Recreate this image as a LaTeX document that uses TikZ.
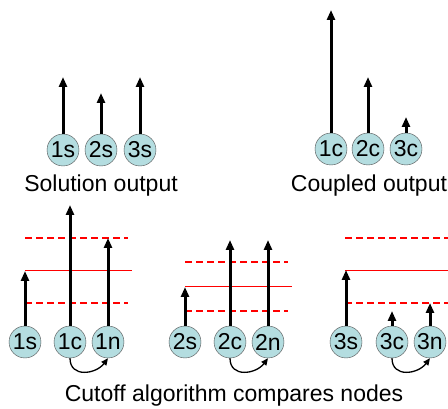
\documentclass[tikz,border=0pt]{standalone}
\usepackage{fontspec}
\setmainfont{Liberation Sans}
\usetikzlibrary{arrows.meta}
\definecolor{ballblue}{RGB}{180,221,224}
\begin{document}
\begin{tikzpicture}[x=1pt, y=-1pt,
    every node/.style={font=\fontsize{23}{26}\selectfont},
    ball/.style={circle, draw=black!70, fill=ballblue, minimum size=32pt, inner sep=0pt},
    vec/.style={-{Triangle[width=8pt,length=10pt]}, line width=3pt},
    cmp/.style={-{Triangle[width=6pt,length=7pt]}, line width=1.3pt},
    cutline/.style={red, line width=1.2pt},
    cutband/.style={red, line width=2pt, dash pattern=on 7pt off 4pt}]
    \useasboundingbox (0,0) rectangle (448,409);
    % Solution output
    \node[ball] (s1) at (63,150) {1s};
    \node[ball] (s2) at (101,150) {2s};
    \node[ball] (s3) at (140,150) {3s};
    \coordinate (ts1) at (63,77);
    \coordinate (ts2) at (101,93);
    \coordinate (ts3) at (140,77);
    \draw[vec] (s1) -- (ts1);
    \draw[vec] (s2) -- (ts2);
    \draw[vec] (s3) -- (ts3);
    \node (sol) at (101,186) {Solution output};
    % Coupled output
    \node[ball] (c1) at (331,149) {1c};
    \node[ball] (c2) at (368,149) {2c};
    \node[ball] (c3) at (406,149) {3c};
    \coordinate (tc1) at (331,10);
    \coordinate (tc2) at (368,77);
    \coordinate (tc3) at (406,117);
    \draw[vec] (c1) -- (tc1);
    \draw[vec] (c2) -- (tc2);
    \draw[vec] (c3) -- (tc3);
    \node (cpl) at (369,186) {Coupled output};
    % Cutoff, node 1
    \draw[cutband] (25,238) -- (128,238);
    \draw[cutband] (25,303) -- (128,303);
    \draw[cutline] (25,270.5) -- (132,270.5);
    \node[ball] (a1) at (25,342) {1s};
    \node[ball] (b1) at (70,342) {1c};
    \node[ball] (n1) at (108,342) {1n};
    \coordinate (ta1) at (25,271);
    \coordinate (tb1) at (70,205);
    \coordinate (tn1) at (108,238);
    \draw[vec] (a1) -- (ta1);
    \draw[vec] (b1) -- (tb1);
    \draw[vec] (n1) -- (tn1);
    \draw[cmp] (b1.south) .. controls +(0,20) and +(-12,16) .. (n1.south);
    % Cutoff, node 2
    \draw[cutband] (185,262) -- (288,262);
    \draw[cutband] (185,311) -- (288,311);
    \draw[cutline] (185,286.5) -- (292,286.5);
    \node[ball] (a2) at (185,342) {2s};
    \node[ball] (b2) at (230,342) {2c};
    \node[ball] (n2) at (268,342) {2n};
    \coordinate (ta2) at (185,287);
    \coordinate (tb2) at (230,240);
    \coordinate (tn2) at (268,240);
    \draw[vec] (a2) -- (ta2);
    \draw[vec] (b2) -- (tb2);
    \draw[vec] (n2) -- (tn2);
    \draw[cmp] (b2.south) .. controls +(0,20) and +(-12,16) .. (n2.south);
    % Cutoff, node 3
    \draw[cutband] (345,238) -- (448,238);
    \draw[cutband] (345,303) -- (448,303);
    \draw[cutline] (345,270.5) -- (448,270.5);
    \node[ball] (a3) at (346,342) {3s};
    \node[ball] (b3) at (392,342) {3c};
    \node[ball] (n3) at (430,342) {3n};
    \coordinate (ta3) at (346,270);
    \coordinate (tb3) at (392,311);
    \coordinate (tn3) at (430,303);
    \draw[vec] (a3) -- (ta3);
    \draw[vec] (b3) -- (tb3);
    \draw[vec] (n3) -- (tn3);
    \draw[cmp] (b3.south) .. controls +(0,20) and +(-12,16) .. (n3.south);
    \node (cut) at (234,396) {Cutoff algorithm compares nodes};
\end{tikzpicture}
\end{document}
